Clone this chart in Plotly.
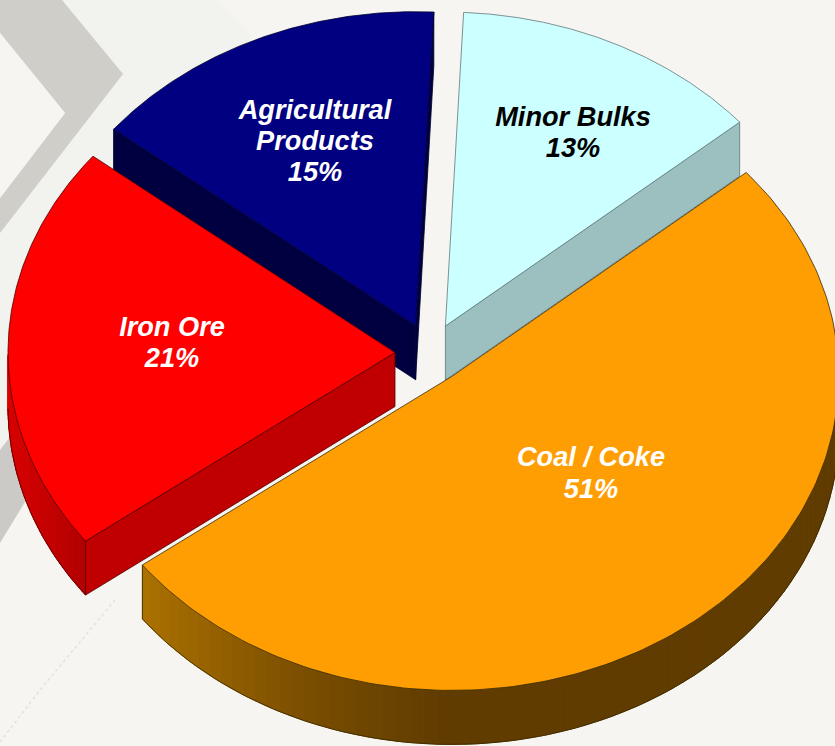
import numpy as np
import plotly.graph_objects as go

# Share of dry bulk cargo by commodity, in percent
categories = ["Coal / Coke", "Iron Ore", "Agricultural Products", "Minor Bulks"]
shares = [51, 21, 15, 13]

# Each label is broken over lines inside the slice
label_lines = [["Coal / Coke"], ["Iron Ore"], ["Agricultural", "Products"], ["Minor Bulks"]]
label_anchor = [(591, 459.5), (172, 329), (315, 112), (573, 119)]
label_colour = ["white", "white", "white", "black"]
LINE_STEP = 31.3

top_colour = ["#ff9e03", "#ff0000", "#000080", "#ccffff"]
cut_colour = ["#8a5800", "#c00000", "#000040", "#9cc0c0"]
edge_colour = ["#3a2a00", "#500000", "#000030", "#5f7878"]

# Projected disc geometry (screen units)
CX, CY = 430, 353
RX, RY = 387, 314
DEPTH = 54
EXPLODE_X, EXPLODE_Y = 35, 30
START_ANGLE = 40.5

WIDTH, HEIGHT = 835, 746
PAPER = "#f6f5f1"


def hex_rgb(h):
    return np.array([int(h[i:i + 2], 16) for i in (1, 3, 5)], dtype=float)


def ramp(x, stops):
    xs = [s[0] for s in stops]
    rgb = np.array([hex_rgb(s[1]) for s in stops])
    vals = [np.interp(x, xs, rgb[:, k]) for k in range(3)]
    return "rgb(%d,%d,%d)" % tuple(round(v) for v in vals)


# Shading of the rim, left to right across the screen
rim_stops = {
    0: [(145, "#aa7000"), (300, "#7b4f00"), (440, "#603c00"), (835, "#603c00")],
    1: [(8, "#d80000"), (88, "#b00000")],
}


def poly(xs, ys, fill, line=None, width=1.0):
    return go.Scatter(
        x=list(xs), y=list(ys), mode="lines", fill="toself", fillcolor=fill,
        line=dict(color=line or fill, width=width), hoverinfo="skip", showlegend=False,
    )


def polyline(xs, ys, colour, width=1.0):
    return go.Scatter(
        x=list(xs), y=list(ys), mode="lines", line=dict(color=colour, width=width),
        hoverinfo="skip", showlegend=False,
    )


# Slice spans run clockwise from the start angle
sweeps = [s / sum(shares) * 360 for s in shares]
spans = []
angle = START_ANGLE
for sweep in sweeps:
    spans.append((angle, angle - sweep))
    angle -= sweep

fig = go.Figure()

# Painted back to front so nearer slices cover the ones behind
for idx in [3, 2, 1, 0]:
    a0, a1 = spans[idx]
    mid = np.radians((a0 + a1) / 2)
    ox = CX + EXPLODE_X * np.cos(mid)
    oy = CY - EXPLODE_Y * np.sin(mid)
    t = np.radians(np.linspace(a0, a1, 181))
    ex = ox + RX * np.cos(t)
    ey = oy - RY * np.sin(t)

    # Cut faces, only those turned towards the viewer
    faces = [(0, np.cos(t[0]) < 0), (-1, np.cos(t[-1]) > 0)]
    for k, facing in faces:
        if facing:
            fig.add_trace(poly(
                [ox, ex[k], ex[k], ox, ox],
                [oy, ey[k], ey[k] + DEPTH, oy + DEPTH, oy],
                cut_colour[idx], edge_colour[idx], 0.8,
            ))

    # Curved rim, built from narrow strips on the lower half of the ellipse
    front = np.where(np.sin(t) < 0)[0]
    if len(front) > 1:
        step = 2
        for i in range(front[0], front[-1], step):
            j = min(i + step, front[-1])
            fig.add_trace(poly(
                [ex[i], ex[j], ex[j], ex[i], ex[i]],
                [ey[i], ey[j], ey[j] + DEPTH, ey[i] + DEPTH, ey[i]],
                ramp((ex[i] + ex[j]) / 2, rim_stops[idx]),
            ))
        fig.add_trace(polyline(ex[front], ey[front] + DEPTH, edge_colour[idx], 0.8))
        far = front[0] if np.cos(t[front[0]]) < 0 else front[-1]
        fig.add_trace(polyline([ex[far], ex[far]], [ey[far], ey[far] + DEPTH], edge_colour[idx], 0.8))

    # Top face
    fig.add_trace(poly(
        np.r_[ox, ex, ox], np.r_[oy, ey, oy], top_colour[idx], edge_colour[idx], 0.8,
    ))

# Labels: name lines followed by the share
tx, ty, tt, tc = [], [], [], []
for lines, (ax, ay), colour, share in zip(label_lines, label_anchor, label_colour, shares):
    for n, text in enumerate(lines + [f"{share}%"]):
        tx.append(ax)
        ty.append(ay + n * LINE_STEP)
        tt.append(text)
        tc.append(colour)
fig.add_trace(go.Scatter(
    x=tx, y=ty, mode="text", text=tt, textposition="middle center",
    textfont=dict(family="Liberation Sans", size=27.2, color=tc, weight="bold", style="italic"),
    hoverinfo="skip", showlegend=False,
))

# Pale slide backdrop: chevron bands on the left-hand side
backdrop = [
    ("M 0 0 L 217 0 L 252 36 L 30 433 L 0 450 Z", "#f2f2ee"),
    ("M 62 0 L 123 74 L 0 233 L 0 198 L 65 113 L 0 33 L 0 0 Z", "#cfcec9"),
    ("M 0 33 L 65 113 L 0 198 Z", "#f6f5f1"),
    ("M 0 450 L 13 433 L 40 433 L 25 502 L 0 543 Z", "#cbcac6"),
]
shapes = [
    dict(type="path", path=p, fillcolor=c, line=dict(width=0), layer="below")
    for p, c in backdrop
]
# Faint dotted trace running up from the lower-left corner
shapes.append(dict(
    type="path", path="M 0 742 L 40 690 L 115 600",
    line=dict(color="#e2e2e0", width=1.5, dash="dot"), layer="below",
))

fig.update_layout(
    width=WIDTH, height=HEIGHT, margin=dict(l=0, r=0, t=0, b=0),
    paper_bgcolor=PAPER, plot_bgcolor=PAPER, shapes=shapes, showlegend=False,
    xaxis=dict(range=[0, WIDTH], visible=False, fixedrange=True),
    yaxis=dict(range=[HEIGHT, 0], visible=False, fixedrange=True),
)

fig.write_html("out.html", config=dict(displayModeBar=False))
